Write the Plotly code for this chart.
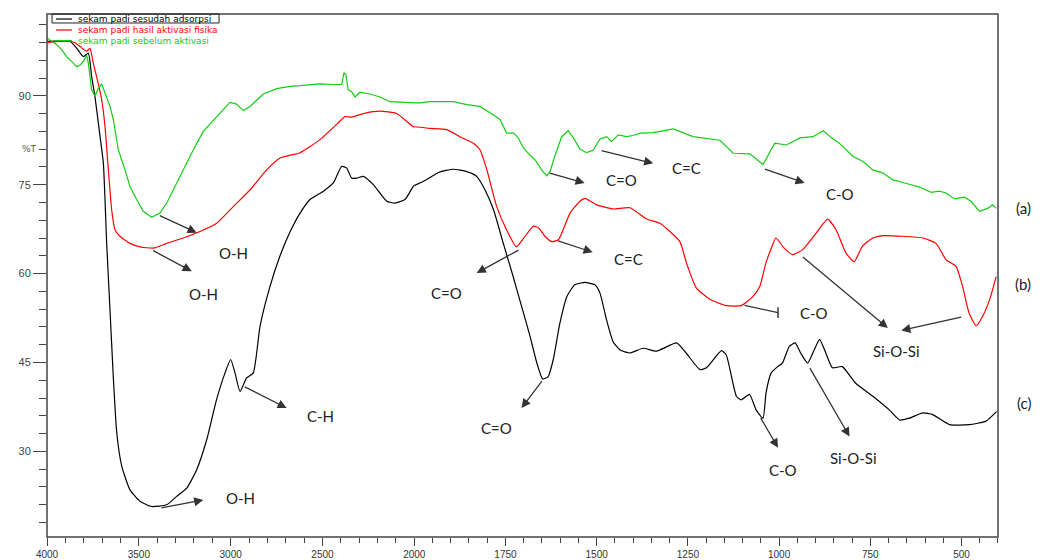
import numpy as np
import plotly.graph_objects as go

# ---------------- data (wavenumber cm-1, %T) ----------------
wn_a = [4000, 3993, 3947, 3920, 3893, 3875, 3857, 3838, 3820, 3802, 3784, 3775, 3757, 3739, 3721, 3702, 3684,
        3657, 3639, 3612, 3575, 3548, 3512, 3476, 3430, 3385, 3348, 3276, 3203, 3149, 3076, 3004, 2967, 2931,
        2895, 2822, 2749, 2677, 2622, 2513, 2441, 2395, 2383, 2372, 2360, 2341, 2323, 2296, 2241, 2187, 2132,
        2023, 1984, 1957, 1893, 1856, 1820, 1784, 1765, 1747, 1728, 1715, 1701, 1683, 1669, 1651, 1637, 1628,
        1615, 1596, 1578, 1564, 1546, 1528, 1510, 1491, 1473, 1459, 1441, 1418, 1400, 1381, 1345, 1290, 1236,
        1162, 1126, 1080, 1044, 1012, 980, 943, 907, 879, 856, 835, 798, 770, 743, 716, 688, 651, 615, 583,
        561, 542, 519, 492, 474, 451, 428, 415, 405]
t_a = [99.8, 99.6, 98.6, 97.8, 96.6, 96.1, 95.5, 94.9, 95.2, 95.8, 96.8, 95.5, 91.0, 90.0, 91.2, 92.0, 90.5,
       88.2, 86.0, 80.9, 77.5, 74.7, 72.5, 70.5, 69.5, 70.2, 71.9, 76.4, 80.9, 84.0, 86.5, 88.9, 88.6, 87.5,
       88.2, 90.3, 91.2, 91.6, 91.7, 92.0, 91.9, 91.9, 93.9, 93.5, 91.0, 90.7, 89.8, 90.6, 90.3, 89.8, 89.0,
       88.8, 88.8, 89.0, 89.0, 88.5, 88.2, 86.8, 86.0, 83.7, 83.7, 82.9, 81.2, 80.0, 79.2, 77.5, 76.5, 77.2,
       79.8, 83.1, 84.1, 82.9, 81.0, 80.4, 80.8, 82.7, 83.1, 82.3, 83.4, 83.1, 83.3, 83.7, 83.8, 84.4, 83.1,
       82.5, 80.3, 80.2, 78.4, 82.0, 81.7, 82.9, 83.1, 84.1, 82.9, 82.0, 79.8, 78.9, 77.5, 77.0, 75.8, 75.2,
       74.6, 73.7, 73.9, 73.6, 72.6, 72.9, 72.2, 70.5, 71.0, 71.6, 71.0]

wn_b = [4000, 3900, 3850, 3820, 3784, 3766, 3748, 3721, 3702, 3684, 3666, 3648, 3630, 3603, 3548, 3494, 3421,
        3348, 3258, 3167, 3076, 2986, 2895, 2804, 2731, 2622, 2513, 2405, 2377, 2341, 2277, 2187, 2096, 2005,
        1957, 1911, 1875, 1838, 1820, 1801, 1774, 1747, 1720, 1701, 1673, 1659, 1642, 1623, 1605, 1573, 1546,
        1532, 1500, 1455, 1409, 1363, 1327, 1272, 1254, 1227, 1191, 1145, 1104, 1072, 1053, 1036, 1020, 1009,
        986, 963, 936, 899, 867, 844, 817, 794, 772, 743, 716, 661, 606, 570, 542, 515, 497, 479, 460, 442,
        423, 405]
t_b = [99.0, 99.2, 99.0, 98.3, 97.5, 98.0, 95.5, 92.1, 89.3, 84.8, 77.5, 70.8, 67.4, 66.3, 65.1, 64.5, 64.3,
       65.1, 66.0, 67.1, 68.5, 71.3, 74.1, 77.5, 79.5, 80.4, 82.6, 85.7, 86.5, 86.4, 87.0, 87.4, 87.0, 84.8,
       84.5, 84.3, 83.1, 82.0, 80.9, 77.5, 71.3, 67.4, 64.5, 65.9, 68.0, 67.7, 66.3, 65.4, 65.7, 70.2, 72.2,
       72.7, 71.6, 70.9, 71.1, 69.2, 68.5, 65.4, 61.8, 57.6, 55.7, 54.6, 54.6, 56.1, 57.8, 61.8, 64.5, 66.0,
       64.3, 63.2, 64.0, 66.8, 69.2, 67.4, 63.5, 62.0, 64.6, 66.0, 66.4, 66.3, 66.0, 65.1, 62.3, 61.2, 57.8,
       53.3, 51.2, 52.8, 55.6, 59.5]

wn_c = [4000, 3993, 3875, 3838, 3802, 3775, 3757, 3739, 3711, 3693, 3675, 3657, 3639, 3620, 3593, 3548, 3494,
        3430, 3348, 3294, 3239, 3185, 3130, 3076, 3031, 3000, 2976, 2949, 2913, 2877, 2840, 2786, 2731, 2677,
        2622, 2568, 2495, 2441, 2395, 2368, 2341, 2314, 2277, 2223, 2150, 2105, 2051, 2005, 1968, 1932, 1893,
        1856, 1829, 1806, 1783, 1756, 1729, 1706, 1683, 1664, 1648, 1633, 1619, 1601, 1582, 1560, 1532, 1505,
        1491, 1473, 1455, 1436, 1409, 1373, 1336, 1281, 1255, 1217, 1199, 1158, 1145, 1117, 1104, 1081, 1063,
        1044, 1036, 1022, 1004, 991, 972, 956, 941, 922, 904, 889, 872, 854, 827, 790, 743, 698, 670, 643,
        606, 579, 533, 479, 433, 404]
t_c = [99.3, 99.2, 99.2, 98.0, 96.6, 97.2, 93.3, 89.9, 83.1, 78.6, 65.1, 53.9, 42.6, 33.1, 27.5, 23.5, 21.6,
       20.7, 21.0, 22.4, 23.8, 26.9, 32.0, 38.8, 43.2, 45.5, 43.2, 40.1, 42.4, 43.2, 51.1, 57.8, 63.0, 67.0,
       70.2, 72.5, 73.9, 75.3, 78.1, 77.8, 76.1, 76.1, 76.4, 75.0, 72.2, 71.9, 72.5, 74.7, 75.8, 77.1, 77.6,
       77.2, 76.4, 74.1, 70.8, 65.1, 59.5, 54.5, 49.5, 44.9, 42.2, 42.6, 45.5, 51.6, 56.1, 58.1, 58.5, 58.1,
       56.7, 52.2, 48.5, 47.1, 46.6, 47.4, 46.9, 48.3, 46.6, 43.8, 44.1, 47.0, 46.3, 39.3, 38.7, 39.6, 37.0,
       35.6, 39.8, 43.2, 44.3, 44.9, 47.7, 48.3, 46.6, 44.9, 47.1, 48.9, 46.6, 44.1, 44.3, 41.5, 39.3, 37.0,
       35.3, 35.6, 36.5, 36.2, 34.5, 34.5, 35.1, 36.7]

series_names = ["sekam padi sesudah adsorpsi", "sekam padi hasil aktivasi fisika", "sekam padi sebelum aktivasi"]
series_colors = ["#000000", "#ff0000", "#14cc14"]
series_shape = ["spline", "spline", "linear"]
series_wn = [wn_c, wn_b, wn_a]
series_t = [t_c, t_b, t_a]

x_ticks_left = [4000, 3500, 3000, 2500]
x_ticks_right = [2000, 1750, 1500, 1250, 1000, 750, 500]
y_ticks = [30, 45, 60, 75, 90]
SPLIT = 2000

# peak annotations: (text, text_x, text_y, arrows[(tail_x, tail_y, head_x, head_y)])
peaks = [
    ("O-H", 2986, 63.5, [(3394, 69.9, 3185, 66.9)]),
    ("O-H", 3149, 56.6, [(3430, 64.0, 3212, 60.4)]),
    ("O-H", 2949, 22.1, [(3385, 20.4, 3149, 21.8)]),
    ("C-H", 2513, 35.9, [(2931, 41.0, 2695, 37.3)]),
    ("C=O", 1911, 56.7, [(1710, 64.1, 1829, 60.1)]),
    ("C=O", 1774, 33.9, [(1647, 42.1, 1706, 37.3)]),
    ("C=O", 1432, 75.8, [(1633, 77.0, 1533, 75.3)]),
    ("C=C", 1254, 77.8, [(1491, 80.8, 1345, 78.6)]),
    ("C=C", 1414, 62.4, [(1610, 65.6, 1511, 63.6)]),
    ("C-O", 834, 73.5, [(1043, 77.7, 930, 75.3)]),
    ("C-O", 905, 53.3, []),
    ("Si-O-Si", 678, 46.9, [(939, 63.0, 702, 50.8), (497, 52.7, 665, 50.4)]),
    ("Si-O-Si", 797, 28.9, [(918, 44.3, 807, 32.5)]),
    ("C-O", 990, 26.9, [(1053, 35.9, 1003, 30.6)]),
]
bar_arrow = (1099, 54.7, 1003, 53.4)  # C-O arrow with bar end on (b)

side_labels = [("(a)", 0.629), ("(b)", 0.484), ("(c)", 0.235)]

# legend rows (paper y) for the three series, in legend order
legend_rows_y = [0.9904, 0.9694, 0.9493]

# ---------------- figure ----------------
BODY = 8  # default page body margin in the exported html
W, H = 1047, 560
PLOT_W, PLOT_H = 951, 523
ML, MT = 47 - BODY, 14 - BODY
MR = W - ML - PLOT_W
MB = H - MT - PLOT_H
split_frac = 0.3862

fig = go.Figure()


def split_series(wn, t):
    wn = np.asarray(wn, float)
    t = np.asarray(t, float)
    li = list(np.where(wn >= SPLIT)[0])
    if li[-1] + 1 < len(wn):
        li.append(li[-1] + 1)
    ri = list(np.where(wn <= SPLIT)[0])
    if ri[0] > 0:
        ri.insert(0, ri[0] - 1)
    return (wn[li], t[li]), (wn[ri], t[ri])


for name, col, shp, wn, t in zip(series_names, series_colors, series_shape, series_wn, series_t):
    (lx, ly), (rx, ry) = split_series(wn, t)
    line = dict(color=col, width=1.2, shape=shp)
    if shp == "spline":
        line["smoothing"] = 0.5
    fig.add_trace(go.Scatter(x=lx, y=ly, mode="lines", line=line,
                             name=name, legendgroup=name, showlegend=False,
                             xaxis="x", yaxis="y", hoverinfo="skip"))
    fig.add_trace(go.Scatter(x=rx, y=ry, mode="lines", line=line,
                             name=name, legendgroup=name, showlegend=False,
                             xaxis="x2", yaxis="y", hoverinfo="skip"))

ann_font = dict(family="Lato, Open Sans, sans-serif", size=15, color="#222")
annotations = []
for text, tx, ty, arrows in peaks:
    xr = "x" if tx >= SPLIT else "x2"
    annotations.append(dict(x=tx, y=ty, xref=xr, yref="y", text=text, showarrow=False, font=ann_font))
    for (ax_, ay_, hx, hy) in arrows:
        ar = "x" if hx >= SPLIT else "x2"
        annotations.append(dict(x=hx, y=hy, xref=ar, yref="y", ax=ax_, ay=ay_, axref=ar, ayref="y",
                                text="", showarrow=True, arrowhead=2, arrowsize=1.4, arrowwidth=1.3,
                                arrowcolor="#333", standoff=0, startstandoff=0))
# bar-ended arrow
annotations.append(dict(x=bar_arrow[2], y=bar_arrow[3], xref="x2", yref="y", ax=bar_arrow[0], ay=bar_arrow[1],
                        axref="x2", ayref="y", text="", showarrow=True, arrowhead=0, arrowwidth=1.3,
                        arrowcolor="#333"))

for txt, yp in side_labels:
    annotations.append(dict(x=1.037, y=yp, xref="paper", yref="paper", text=txt, showarrow=False,
                            font=dict(family="Lato, Open Sans, sans-serif", size=15, color="#222")))
annotations.append(dict(x=-0.028, y=0.755, xref="paper", yref="paper", text="%T", showarrow=False,
                        font=dict(family="DejaVu Sans", size=9, color="#555")))

shapes = [
    dict(type="rect", xref="paper", yref="paper", x0=0, x1=1, y0=0, y1=1,
         line=dict(color="#444", width=1.5), layer="above"),
    dict(type="line", xref="x2", yref="y", x0=bar_arrow[2], x1=bar_arrow[2], y0=52.5, y1=54.3,
         line=dict(color="#333", width=1.5)),
    dict(type="rect", xref="paper", yref="paper", x0=0.0053, x1=0.1809, y0=0.9828, y1=1.0,
         line=dict(color="#222", width=1)),
]

# hand-drawn legend (compact rows like the original)
for name, col, ly in zip(series_names, series_colors, legend_rows_y):
    shapes.append(dict(type="line", xref="paper", yref="paper", x0=0.0095, x1=0.0263, y0=ly, y1=ly,
                       line=dict(color=col, width=1.2)))
    annotations.append(dict(x=0.0305, y=ly, xref="paper", yref="paper", text=name, showarrow=False,
                            xanchor="left", yanchor="middle",
                            font=dict(family="DejaVu Sans", size=9, color=col)))

tick_font = dict(family="Liberation Sans, Arial, sans-serif", size=10, color="#333")
common_x = dict(showgrid=False, zeroline=False, showline=False, ticks="outside", ticklen=8,
                tickcolor="#444", tickwidth=1.2, tickfont=tick_font, anchor="y", automargin=False)

fig.update_layout(
    width=W, height=H,
    margin=dict(l=ML, r=MR, t=MT, b=MB, pad=0, autoexpand=False),
    paper_bgcolor="white", plot_bgcolor="white",
    showlegend=False,
    xaxis=dict(**common_x, domain=[0, split_frac], range=[4000, SPLIT], tickmode="array",
               tickvals=x_ticks_left,
               minor=dict(ticks="outside", ticklen=5, tickcolor="#444", tickmode="linear", tick0=0, dtick=100)),
    xaxis2=dict(**common_x, domain=[split_frac, 1], range=[SPLIT, 400], tickmode="array",
                tickvals=x_ticks_right,
                minor=dict(ticks="outside", ticklen=5, tickcolor="#444", tickmode="linear", tick0=0, dtick=50)),
    yaxis=dict(showgrid=False, zeroline=False, showline=False, range=[15.55, 103.8], anchor="x",
               automargin=False,
               tickmode="array", tickvals=y_ticks, ticks="outside", ticklen=13, tickcolor="#444",
               tickwidth=1.2, tickfont=dict(family="Liberation Sans, Arial, sans-serif", size=11, color="#444"),
               minor=dict(ticks="outside", ticklen=7, tickcolor="#444", tickmode="linear", tick0=0, dtick=3)),
    annotations=annotations,
    shapes=shapes,
)

fig.write_html("out.html")
